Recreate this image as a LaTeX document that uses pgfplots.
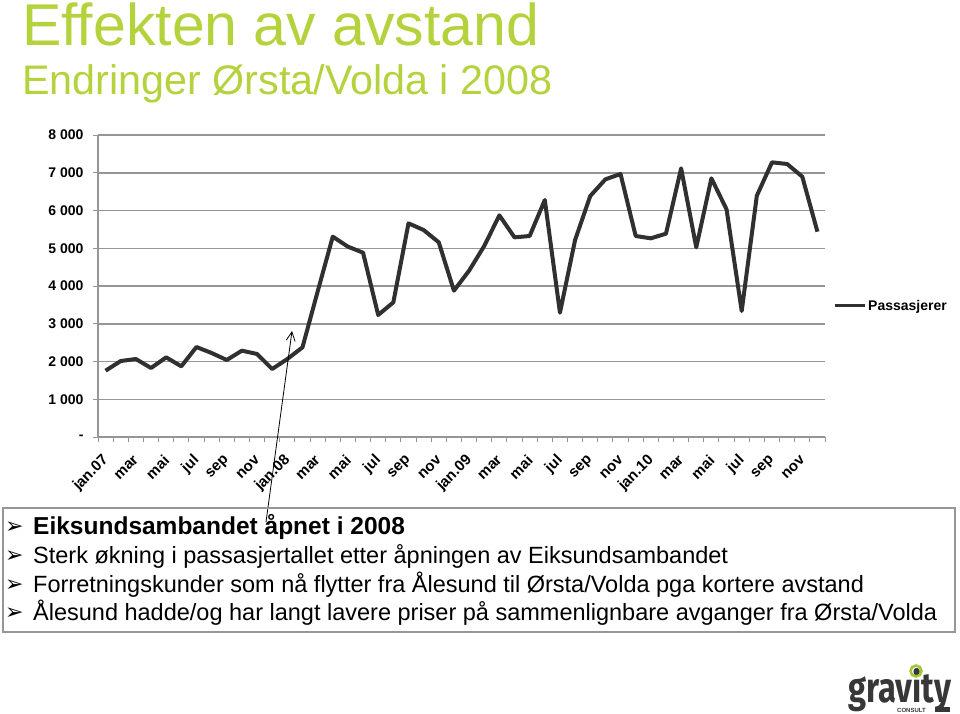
\documentclass[border=0pt]{standalone}
\usepackage{pgfplots}
\pgfplotsset{compat=1.18}
\usepackage{pgfplotstable}
\usetikzlibrary{arrows.meta}
\usepackage{fontspec}
\setmainfont{Liberation Sans}
\newfontfamily\symfont{DejaVu Sans}
\newfontfamily\logofont{Fira Sans}
\definecolor{titlegreen}{RGB}{180,210,60}
\definecolor{logogreen}{RGB}{160,200,50}
\definecolor{lineclr}{RGB}{48,48,48}
\definecolor{gridclr}{RGB}{150,150,150}
\definecolor{logogray}{RGB}{55,55,55}
\pgfplotstableread{
x y
0 1757
1 2013
2 2066
3 1828
4 2110
5 1872
6 2384
7 2225
8 2040
9 2287
10 2199
11 1801
12 2066
13 2375
14 3850
15 5307
16 5042
17 4883
18 3232
19 3568
20 5660
21 5483
22 5157
23 3876
24 4406
25 5060
26 5872
27 5289
28 5325
29 6278
30 3293
31 5219
32 6384
33 6826
34 6967
35 5325
36 5263
37 5386
38 7117
39 5024
40 6852
41 6030
42 3338
43 6393
44 7276
45 7232
46 6896
47 5439
}\data
\begin{document}
\begin{tikzpicture}[x=1pt,y=1pt]
\fill[white] (0,0) rectangle (960,713);
% titles
\node[anchor=base west, inner sep=0pt, text=titlegreen, font=\fontsize{59}{59}\selectfont] at (22,713-46) {Effekten av avstand};
\node[anchor=base west, inner sep=0pt, text=titlegreen, font=\fontsize{41.3}{41.3}\selectfont] at (22,713-94.5) {Endringer Ørsta/Volda i 2008};
\begin{axis}[
  at={(98pt,276pt)}, anchor=south west,
  scale only axis, width=727pt, height=302pt,
  xmin=-0.5, xmax=47.5, ymin=0, ymax=8000,
  axis x line*=bottom, axis y line*=left,
  axis line style={gridclr, line width=1.2pt},
  tick align=outside, major tick length=5pt,
  tick style={gridclr, line width=1pt},
  ymajorgrids, grid style={gridclr, line width=1.5pt},
  ytick={0,1000,...,8000},
  yticklabels={-,1 000,2 000,3 000,4 000,5 000,6 000,7 000,8 000},
  yticklabel style={font=\bfseries\fontsize{14}{14}\selectfont, xshift=-6pt},
  xtick={-0.5,0.5,...,47.5},
  xticklabels={},
  extra x ticks={0,2,...,46},
  extra x tick labels={jan.07,mar,mai,jul,sep,nov,jan.08,mar,mai,jul,sep,nov,jan.09,mar,mai,jul,sep,nov,jan.10,mar,mai,jul,sep,nov},
  extra x tick style={major tick length=0pt, grid=none,
    xticklabel style={xshift=0.5pt, yshift=-21pt, rotate=45, anchor=east, inner sep=0pt,
      font=\bfseries\fontsize{15}{15}\selectfont}},
  legend style={at={(1.011,0.434)}, anchor=west, draw=none, fill=none,
    font=\bfseries\fontsize{14}{14}\selectfont, inner sep=0pt},
  legend image code/.code={\draw[#1, line width=3pt] (0pt,0pt) -- (30pt,0pt);},
  clip=false,
]
\addplot[lineclr, line width=4pt, line join=round, mark=none] table[x=x,y=y] {\data};
\addlegendentry{Passasjerer}
\end{axis}
% arrow annotation
\draw[-{Straight Barb[length=9pt,width=9pt]}, line width=0.8pt, black] (266,713-522) -- (292,713-331);
% text box
\draw[gridclr, line width=1.5pt] (3,713-508) rectangle (955,713-632);
\foreach \yy/\txt in {563/{Sterk økning i passasjertallet etter åpningen av Eiksundsambandet},
                     592/{Forretningskunder som nå flytter fra Ålesund til Ørsta/Volda pga kortere avstand},
                     620/{Ålesund hadde/og har langt lavere priser på sammenlignbare avganger fra Ørsta/Volda}}{
  \node[anchor=base west, inner sep=0pt, font=\fontsize{23.5}{23.5}\selectfont] at (33,713-\yy) {\txt};
  \node[anchor=base west, inner sep=0pt, font=\symfont\fontsize{22}{22}\selectfont] at (5,713-\yy+1) {➢};
}
\node[anchor=base west, inner sep=0pt, font=\bfseries\fontsize{24.5}{24.5}\selectfont] at (33,713-534) {Eiksundsambandet åpnet i 2008};
\node[anchor=base west, inner sep=0pt, font=\symfont\fontsize{22}{22}\selectfont] at (5,713-533) {➢};
% logo
\node[anchor=base west, inner sep=0pt, text=logogray, font=\logofont\bfseries\fontsize{42}{42}\selectfont, transform shape, xscale=0.78] at (848,713-702) {gravity};
\draw[logogreen, line width=2.5pt] (916,713-671) circle (5.5);
\node[anchor=base west, inner sep=0pt, text=logogray, font=\bfseries\fontsize{6}{6}\selectfont] at (897,713-712) {CONSULT};
\fill[logogray] (935,713-711.5) rectangle (950,713-706.5);
\pgfresetboundingbox
\useasboundingbox (0,0) rectangle (960,713);
\end{tikzpicture}
\end{document}
